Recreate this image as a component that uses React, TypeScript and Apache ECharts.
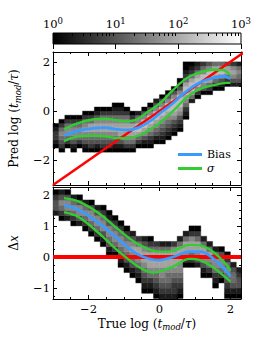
import React, { useEffect, useRef } from 'react';
import * as echarts from 'echarts';

const FONT = 'DejaVu Serif';

const X_RANGE = [-3, 2.3];
const TOP_Y_RANGE = [-3, 2.4];
const BOTTOM_Y_RANGE = [-1.35, 2.25];

const xMajorTicks = [-2, 0, 2];
const xMinorTicks = [-3, -2.5, -2, -1.5, -1, -0.5, 0, 0.5, 1, 1.5, 2];
const topYMajorTicks = [-2, 0, 2];
const topYMinorTicks = [-3, -2.5, -2, -1.5, -1, -0.5, 0, 0.5, 1, 1.5, 2];
const bottomYMajorTicks = [-1, 0, 1, 2];
const bottomYMinorTicks = [-1.25, -1, -0.75, -0.5, -0.25, 0, 0.25, 0.5, 0.75, 1, 1.25, 1.5, 1.75, 2, 2.25];
const colorbarMajorTicks = [1, 10, 100, 1000];
const colorbarMinorTicks = [2, 3, 4, 5, 6, 7, 8, 9, 20, 30, 40, 50, 60, 70, 80, 90, 200, 300, 400, 500, 600, 700, 800, 900];

// 2D histogram bins
const BIN_WIDTH = 1 / 6;
const HIST_X0 = -3;
const TOP_HIST_Y0 = -3;
const BOTTOM_HIST_Y0 = -1.5;

// per x-bin column: [first y-bin index, grey levels (1 = black ... brighter) from bottom to top]
const topHistColumns: [number, string][] = [
  [9, '123321'],
  [8, '13456531'],
  [9, '13566531'],
  [8, '124566531'],
  [9, '13566531'],
  [8, '1245676531'],
  [8, '1345677531'],
  [8, '12456776421'],
  [8, '13456776531'],
  [8, '13456776531'],
  [8, '124567765321'],
  [8, '124677765321'],
  [8, '13567776531'],
  [8, '1356787531'],
  [9, '135788652'],
  [9, '1246788641'],
  [9, '12356788641'],
  [10, '12456788642'],
  [10, '123456788641'],
  [11, '123456788641'],
  [12, '123467888641'],
  [13, '1234678886421'],
  [16, '12356788753211'],
  [20, '2578875321'],
  [21, '136887532'],
  [22, '14688653'],
  [22, '13578864'],
  [23, '1357875'],
  [23, '1246875'],
  [24, '135774'],
  [24, '246763'],
  [24, '245652'],
];

const bottomHistColumns: [number, string][] = [
  [17, '24431'],
  [16, '135642'],
  [16, '246641'],
  [15, '135652'],
  [15, '246641'],
  [14, '135652'],
  [13, '1356641'],
  [12, '1356642'],
  [11, '12466531'],
  [9, '124566421'],
  [9, '13566531'],
  [7, '124566531'],
  [6, '124566531'],
  [5, '124567642'],
  [4, '123567753'],
  [2, '12345677642'],
  [2, '12356777531'],
  [1, '12345677753'],
  [0, '123456677752'],
  [0, '123455677752'],
  [0, '123345677763'],
  [1, '123456677752'],
  [7, '1367752'],
  [7, '13577631'],
  [7, '24677531'],
  [5, '12467752'],
  [5, '1356752'],
  [3, '12356652'],
  [4, '1356641'],
  [1, '123456531'],
  [1, '1245542'],
  [1, '124432'],
];

const oneToOneLine = [[-3, -3], [2.4, 2.4]];
const zeroLine = [[-3, 0], [2.3, 0]];

const topBias = [[-2.69, -0.99], [-2.3, -0.8], [-1.84, -0.69], [-1.56, -0.67], [-1.17, -0.74], [-0.89, -0.77], [-0.61, -0.68], [-0.37, -0.5], [-0.19, -0.33], [0, -0.1], [0.19, 0.1], [0.38, 0.32], [0.57, 0.57], [0.76, 0.8], [1.04, 1.08], [1.33, 1.27], [1.61, 1.38], [1.85, 1.41], [1.99, 1.31]];
const topSigmaUpper = [[-2.69, -0.74], [-2.31, -0.5], [-1.84, -0.33], [-1.56, -0.31], [-1.17, -0.38], [-0.89, -0.42], [-0.61, -0.32], [-0.37, -0.07], [0, 0.3], [0.38, 0.85], [0.76, 1.33], [1.14, 1.57], [1.51, 1.68], [1.8, 1.66], [2.0, 1.47]];
const topSigmaLower = [[-2.69, -1.22], [-2.31, -1.04], [-1.84, -1.0], [-1.56, -1.02], [-1.17, -1.1], [-0.89, -1.09], [-0.61, -1.0], [-0.37, -0.84], [0, -0.49], [0.38, 0.0], [0.76, 0.55], [1.14, 0.9], [1.51, 1.05], [1.9, 1.15], [2.0, 1.15]];

const bottomBias = [[-2.69, 1.67], [-2.27, 1.51], [-1.7, 1.08], [-1.14, 0.55], [-0.57, 0.06], [0, -0.1], [0.38, 0.0], [0.85, 0.17], [1.14, 0.17], [1.51, -0.04], [1.9, -0.47], [2.0, -0.63]];
const bottomSigmaUpper = [[-2.69, 1.89], [-2.27, 1.78], [-1.7, 1.4], [-1.14, 0.87], [-0.57, 0.39], [0, 0.17], [0.38, 0.2], [0.85, 0.39], [1.14, 0.37], [1.51, 0.17], [1.9, -0.26], [2.0, -0.44]];
const bottomSigmaLower = [[-2.69, 1.44], [-2.27, 1.28], [-1.7, 0.76], [-1.14, 0.17], [-0.57, -0.33], [-0.2, -0.5], [0, -0.47], [0.38, -0.31], [0.85, -0.06], [1.14, -0.1], [1.51, -0.33], [1.9, -0.69], [2.0, -0.79]];

const RED = '#ff0000';
const BLUE = '#3a9bff';
const GREEN = '#33cc33';

function histData(cols: [number, string][], y0: number) {
  const out: number[][] = [];
  cols.forEach(([row0, levels], i) => {
    for (let r = 0; r < levels.length; r++) {
      out.push([HIST_X0 + i * BIN_WIDTH, y0 + (row0 + r) * BIN_WIDTH, Number(levels[r])]);
    }
  });
  return out;
}

const fmtNum = (v: number) => (v < 0 ? '\u2212' + Math.abs(v) : String(v));

const tickLabelStyle = { fontFamily: FONT, fontSize: 11.5, color: '#000' };
const nameRich = {
  it: { fontFamily: FONT, fontSize: 12, fontStyle: 'italic', color: '#000', lineHeight: 16 },
  sub: { fontFamily: FONT, fontSize: 8.5, fontStyle: 'italic', color: '#000', lineHeight: 10, verticalAlign: 'bottom' },
};

function makeAxes(dim: 'x' | 'y', gridIndex: number, range: number[], major: number[], minor: number[], showLabels: boolean, nameCfg?: any) {
  const posA = dim === 'x' ? 'bottom' : 'left';
  const posB = dim === 'x' ? 'top' : 'right';
  const base = (position: string, ticks: number[], len: number, labels: boolean, line: boolean) => ({
    type: 'value',
    gridIndex,
    min: range[0],
    max: range[1],
    position,
    axisLine: { show: line, onZero: false, lineStyle: { color: '#000', width: 1 } },
    axisTick: { show: true, inside: true, length: len, customValues: ticks, lineStyle: { color: '#000', width: 1 } },
    axisLabel: labels
      ? { show: true, customValues: major, formatter: fmtNum, margin: dim === 'x' ? 4 : 3, ...tickLabelStyle }
      : { show: false },
    splitLine: { show: false },
  });
  const primary: any = base(posA, major, 4, showLabels, true);
  if (nameCfg) Object.assign(primary, nameCfg);
  return [
    primary,
    base(posA, minor, 2, false, false),
    base(posB, major, 4, false, true),
    base(posB, minor, 2, false, false),
  ];
}

const renderCell = (params: any, api: any) => {
  const x0 = api.value(0);
  const y0 = api.value(1);
  const p0 = api.coord([x0, y0]);
  const p1 = api.coord([x0 + BIN_WIDTH, y0 + BIN_WIDTH]);
  const cs = params.coordSys;
  const shape = echarts.graphic.clipRectByRect(
    { x: p0[0], y: p1[1], width: p1[0] - p0[0], height: p0[1] - p1[1] },
    { x: cs.x, y: cs.y, width: cs.width, height: cs.height }
  );
  if (!shape) return null;
  const c = api.visual('color');
  return { type: 'rect', shape, style: { fill: c, stroke: c, lineWidth: 0.4 } };
};

export default function App() {
  const ref = useRef<HTMLDivElement>(null);
  useEffect(() => {
    if (!ref.current) return;
    const chart = echarts.init(ref.current, null, { renderer: 'svg' });

    const nameStyle = { fontFamily: FONT, fontSize: 12, color: '#000', lineHeight: 16, rich: nameRich };

    const xAxes = [
      {
        type: 'log', logBase: 10, gridIndex: 0, min: 1, max: 1000, position: 'top',
        axisLine: { show: false },
        axisTick: { show: true, inside: true, length: 5, customValues: colorbarMajorTicks, lineStyle: { color: '#000', width: 1 } },
        axisLabel: {
          show: true, customValues: colorbarMajorTicks, margin: 1,
          formatter: (v: number) => `{b|10}{s|${Math.round(Math.log10(v))}}`,
          rich: {
            b: { fontFamily: FONT, fontSize: 11.5, color: '#000', lineHeight: 16 },
            s: { fontFamily: FONT, fontSize: 8.5, color: '#000', lineHeight: 10, verticalAlign: 'top' },
          },
        },
        splitLine: { show: false },
      },
      {
        type: 'log', logBase: 10, gridIndex: 0, min: 1, max: 1000, position: 'top',
        axisLine: { show: false },
        axisTick: { show: true, inside: true, length: 3, customValues: colorbarMinorTicks, lineStyle: { color: '#000', width: 1 } },
        axisLabel: { show: false },
        splitLine: { show: false },
      },
      ...makeAxes('x', 1, X_RANGE, xMajorTicks, xMinorTicks, false),
      ...makeAxes('x', 2, X_RANGE, xMajorTicks, xMinorTicks, true, {
        name: 'True log ({it|t}{sub|mod}/{it|\u03c4})',
        nameLocation: 'middle',
        nameGap: 16,
        nameTextStyle: nameStyle,
      }),
    ];

    const yAxes = [
      { type: 'value', gridIndex: 0, min: 0, max: 1, show: false },
      ...makeAxes('y', 1, TOP_Y_RANGE, topYMajorTicks, topYMinorTicks, true, {
        name: 'Pred log ({it|t}{sub|mod}/{it|\u03c4})',
        nameLocation: 'middle',
        nameRotate: 90,
        nameGap: 23,
        nameTextStyle: nameStyle,
      }),
      ...makeAxes('y', 2, BOTTOM_Y_RANGE, bottomYMajorTicks, bottomYMinorTicks, true, {
        name: '\u0394{it|x}',
        nameLocation: 'middle',
        nameRotate: 90,
        nameGap: 24,
        nameTextStyle: nameStyle,
      }),
    ];

    const lineSeries = (name: string, data: number[][], color: string, width: number, xi: number, yi: number, z: number, smooth: number | boolean = 0.35) => ({
      type: 'line', name, data, xAxisIndex: xi, yAxisIndex: yi, z,
      showSymbol: false, symbol: 'none', smooth, clip: true,
      lineStyle: { color, width }, itemStyle: { color },
      emphasis: { disabled: true },
    });

    const option: any = {
      animation: false,
      backgroundColor: '#fff',
      grid: [
        {
          left: 53, top: 33, width: 188, height: 11, show: true, borderColor: '#000', borderWidth: 1,
          backgroundColor: new echarts.graphic.LinearGradient(0, 0, 1, 0, [
            { offset: 0, color: '#000000' },
            { offset: 1, color: '#ffffff' },
          ]),
          outerBoundsMode: 'none',
        },
        { left: 53, top: 52, width: 188, height: 133, outerBoundsMode: 'none' },
        { left: 53, top: 187, width: 188, height: 112, outerBoundsMode: 'none' },
      ],
      xAxis: xAxes,
      yAxis: yAxes,
      visualMap: [
        {
          type: 'continuous', show: false, seriesIndex: [0, 5], dimension: 2, min: 1, max: 10.5,
          inRange: { color: ['#000000', '#ffffff'] },
        },
      ],
      legend: {
        left: 178, top: 148, orient: 'vertical', icon: 'rect', itemWidth: 24, itemHeight: 3, itemGap: 1,
        padding: 0, selectedMode: false, data: ['Bias', '\u03c3'],
        formatter: (n: string) => (n === 'Bias' ? '{n|Bias}' : '{it|\u03c3}'),
        textStyle: {
          fontFamily: FONT, fontSize: 11, color: '#000', lineHeight: 13,
          rich: {
            n: { fontFamily: FONT, fontSize: 11, color: '#000', lineHeight: 13 },
            it: { fontFamily: FONT, fontSize: 11, fontStyle: 'italic', color: '#000', lineHeight: 13 },
          },
        },
      },
      series: [
        {
          type: 'custom', name: 'hist-top', xAxisIndex: 2, yAxisIndex: 1, z: 1,
          data: histData(topHistColumns, TOP_HIST_Y0), encode: { x: 0, y: 1 },
          renderItem: renderCell, silent: true,
        },
        lineSeries('one-to-one', oneToOneLine, RED, 2.5, 2, 1, 2, false),
        lineSeries('Bias', topBias, BLUE, 2.7, 2, 1, 3),
        lineSeries('\u03c3', topSigmaUpper, GREEN, 2.3, 2, 1, 4),
        lineSeries('\u03c3', topSigmaLower, GREEN, 2.3, 2, 1, 4),
        {
          type: 'custom', name: 'hist-bottom', xAxisIndex: 6, yAxisIndex: 5, z: 1,
          data: histData(bottomHistColumns, BOTTOM_HIST_Y0), encode: { x: 0, y: 1 },
          renderItem: renderCell, silent: true,
        },
        lineSeries('zero', zeroLine, RED, 4, 6, 5, 2, false),
        lineSeries('Bias', bottomBias, BLUE, 2.7, 6, 5, 3),
        lineSeries('\u03c3', bottomSigmaUpper, GREEN, 2.3, 6, 5, 4),
        lineSeries('\u03c3', bottomSigmaLower, GREEN, 2.3, 6, 5, 4),
      ],
    };

    chart.setOption(option);
    return () => chart.dispose();
  }, []);

  return <div ref={ref} style={{ position: 'fixed', left: 0, top: 0, width: 266, height: 346, background: '#fff' }} />;
}
